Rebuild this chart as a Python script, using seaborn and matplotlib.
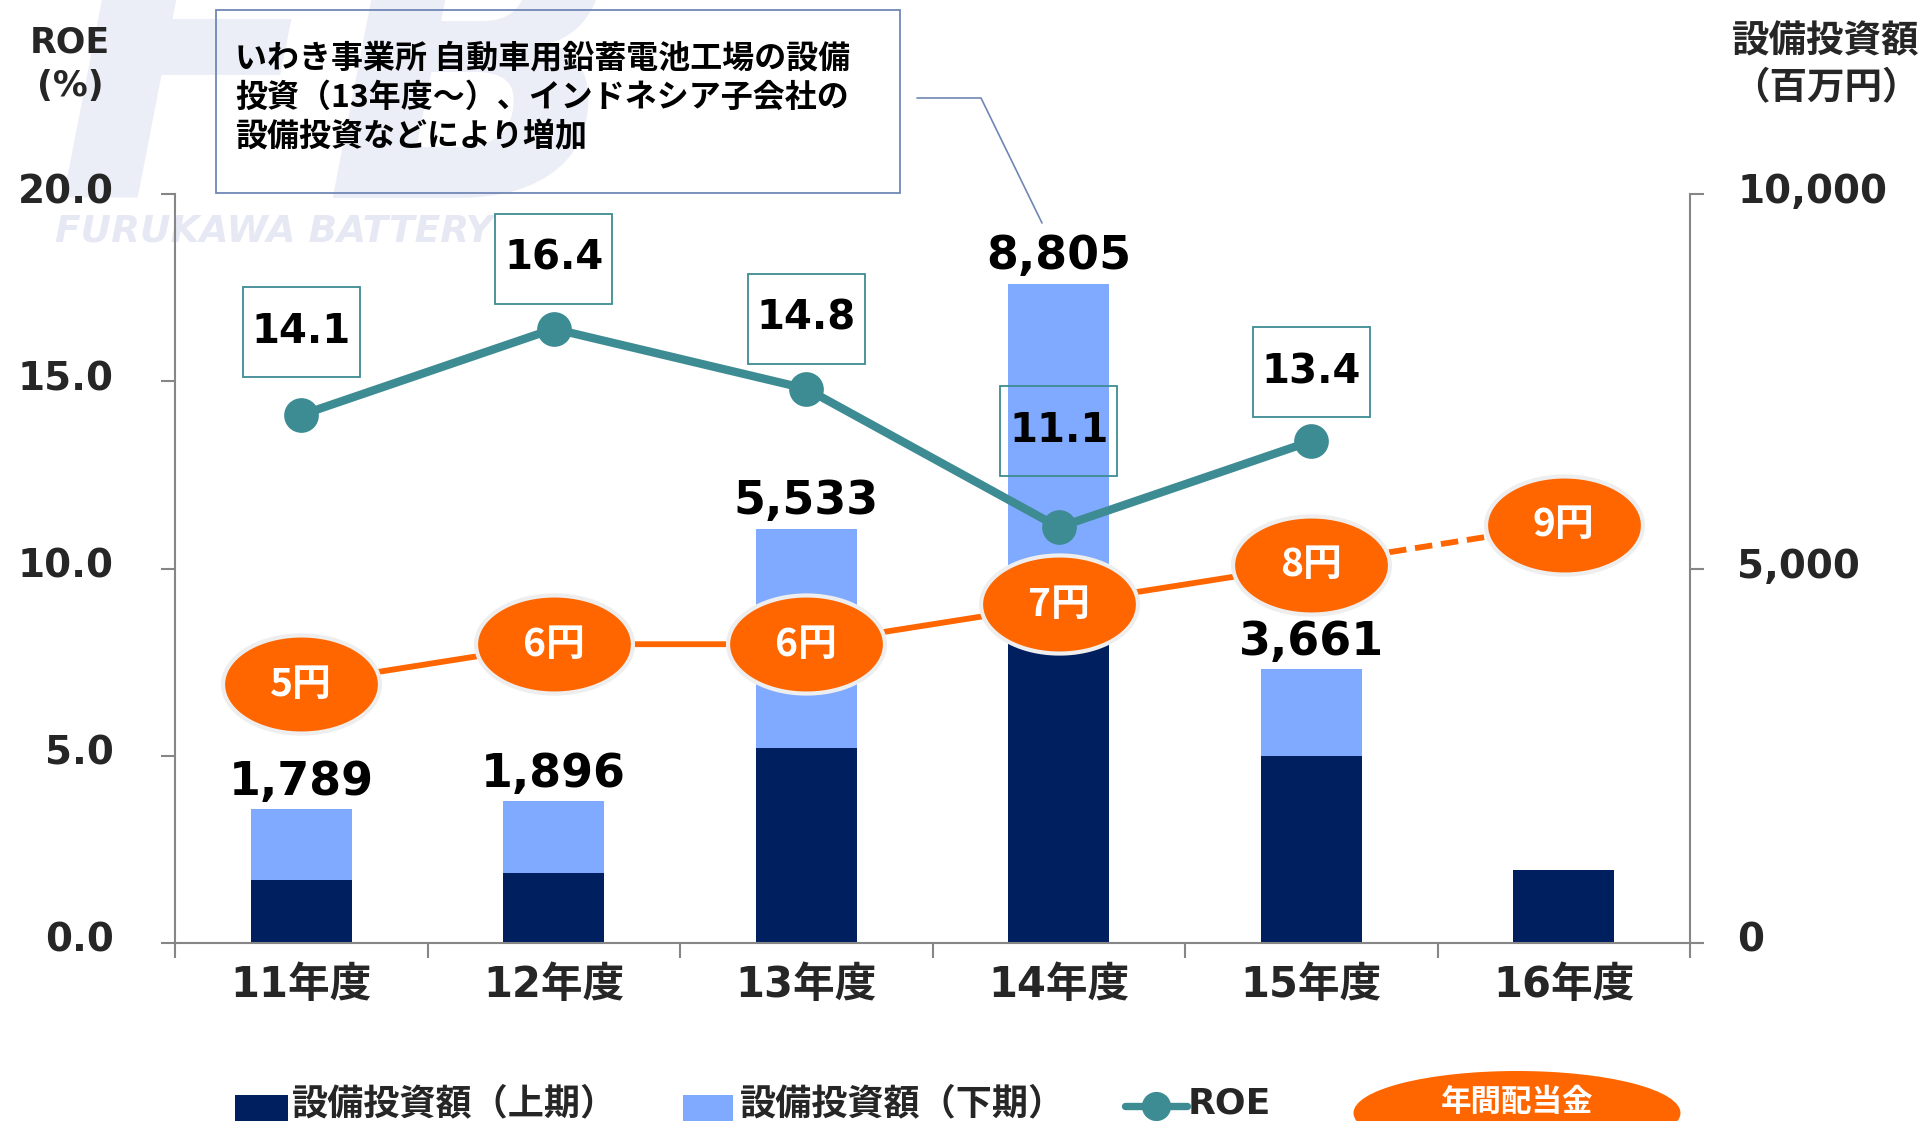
import numpy as np
import pandas as pd
import matplotlib
matplotlib.use("Agg")
import matplotlib.pyplot as plt
import matplotlib.transforms as mtransforms
from matplotlib.path import Path
from matplotlib.patches import Rectangle, Ellipse
from matplotlib.lines import Line2D
import seaborn as sns

# ---------------- data ----------------
categories = ["11年度", "12年度", "13年度", "14年度", "15年度", "16年度"]
capex_h1 = [835, 933, 2602, 4400, 2500, 980]          # 設備投資額（上期）
capex_total = [1789, 1896, 5533, 8805, 3661]           # 上期+下期 (labels)
roe = [14.1, 16.4, 14.8, 11.1, 13.4]
dividend = [5, 6, 6, 7, 8, 9]                          # 年間配当金（円）
roe_ticks = [0, 5, 10, 15, 20]
capex_ticks = [0, 5000, 10000]
note_lines = ["いわき事業所 自動車用鉛蓄電池工場の設備",
              "投資（13年度～）、インドネシア子会社の",
              "設備投資などにより増加"]
legend_labels = ["設備投資額（上期）", "設備投資額（下期）", "ROE", "年間配当金"]

# ---------------- style ----------------
NAVY = "#001F5F"
LIGHT = "#80AAFF"
TEAL = "#3E8C93"
ORANGE = "#FF6600"
GRAY = "#868686"
BOXBLUE = "#6F87B5"
roe_box_offsets = [0.83, 0.70, 0.70, 0.96, 0.69]   # inches above point

sns.set_theme(style="white")
plt.rcParams["font.family"] = ["DejaVu Sans", "Noto Sans CJK JP"]
plt.rcParams["font.weight"] = "bold"
CJK = ["Noto Sans CJK JP", "DejaVu Sans"]

W, H = 1923, 1121
fig = plt.figure(figsize=(W / 100, H / 100), dpi=100)
fig.patch.set_facecolor("white")


def fx(x):
    return x / W


def fy(y):
    return 1 - y / H


# watermark
fig.text(fx(55), fy(198), "FB", fontsize=285, style="italic", weight="bold",
         color="#ECEEF7", ha="left", va="baseline", zorder=0)
fig.text(fx(55), fy(231), "FURUKAWA BATTERY", fontsize=27, style="italic",
         weight="bold", color="#E6E9F4", ha="left", va="center", zorder=0)

ax = fig.add_axes([fx(175), fy(943), fx(1690) - fx(175), fy(194) - fy(943)])
ax3 = ax.twinx()
ax2 = ax.twinx()
ax.set_zorder(1)
ax3.set_zorder(2)
ax2.set_zorder(3)
ax.patch.set_visible(False)

# ---------------- bars ----------------
df_tot = pd.DataFrame({"cat": categories[:len(capex_total)], "v": capex_total})
df_h1 = pd.DataFrame({"cat": categories, "v": capex_h1})
sns.barplot(data=df_tot, x="cat", y="v", order=categories, color=LIGHT,
            saturation=1, width=0.4, linewidth=0, ax=ax)
sns.barplot(data=df_h1, x="cat", y="v", order=categories, color=NAVY,
            saturation=1, width=0.4, linewidth=0, ax=ax)
ax.set_ylim(0, capex_ticks[-1])
ax.set_xlim(-0.5, len(categories) - 0.5)
ax.set_xlabel("")
ax.set_ylabel("")
for i, v in enumerate(capex_total):
    ax.annotate(f"{v:,}", xy=(i, v), xytext=(0, 3), textcoords="offset points",
                ha="center", va="bottom", fontsize=33, weight="bold", color="black")

# ---------------- dividend ----------------
div_x = np.arange(len(dividend))
sns.lineplot(x=div_x[:5], y=dividend[:5], ax=ax3, color=ORANGE, lw=4.2)
sns.lineplot(x=div_x[4:], y=dividend[4:], ax=ax3, color=ORANGE, lw=4.2,
             linestyle=(0, (3, 1.5)))
theta = np.linspace(0, 2 * np.pi, 120)
ell_path = Path(np.column_stack([np.cos(theta), 0.625 * np.sin(theta)]), closed=True)
ax3.plot(div_x, dividend, ls="none", marker=ell_path, markersize=113,
         markerfacecolor=ORANGE, markeredgecolor="#EEEEEE", markeredgewidth=3)
for i, d in enumerate(dividend):
    ax3.text(i, d, f"{d}円", ha="center", va="center", color="white",
             fontsize=28, family=CJK, weight="bold")
ax3.set_ylim(-1.5, 17.3)
ax3.set_axis_off()

# ---------------- ROE ----------------
roe_x = np.arange(len(roe))
sns.lineplot(x=roe_x, y=roe, ax=ax2, color=TEAL, lw=6, marker="o",
             markersize=25, markeredgewidth=0, markerfacecolor=TEAL)
ax2.set_ylim(roe_ticks[0], roe_ticks[-1])
for i, (v, off) in enumerate(zip(roe, roe_box_offsets)):
    trans = fig.dpi_scale_trans + mtransforms.ScaledTranslation(i, v, ax2.transData)
    ax2.add_patch(Rectangle((-0.585, off - 0.45), 1.17, 0.90, transform=trans,
                            fill=False, ec=TEAL, lw=1.3, clip_on=False))
    ax2.text(0, off, f"{v:.1f}", transform=trans, ha="center", va="center",
             fontsize=29, weight="bold", color="black", clip_on=False)

# ---------------- axes styling ----------------
for a in (ax, ax2, ax3):
    for s in a.spines.values():
        s.set_visible(False)
for a, s in ((ax, "right"), (ax, "bottom"), (ax2, "left")):
    a.spines[s].set_visible(True)
    a.spines[s].set_color(GRAY)
    a.spines[s].set_linewidth(1.5)

ax2.yaxis.tick_left()
ax2.set_yticks(roe_ticks)
ax2.set_yticklabels([f"{t:.1f}" for t in roe_ticks])
ax2.tick_params(axis="y", direction="out", length=10, width=1.5, color=GRAY,
                labelsize=28, pad=34)

ax.yaxis.tick_right()
ax.set_yticks(capex_ticks)
ax.set_yticklabels([f"{t:,}" for t in capex_ticks])
ax.tick_params(axis="y", direction="out", length=10, width=1.5, color=GRAY,
               labelsize=28, pad=24, left=False, right=True,
               labelleft=False, labelright=True)

up = mtransforms.ScaledTranslation(0, 0.06, fig.dpi_scale_trans)
for lbl in list(ax2.get_yticklabels()) + list(ax.get_yticklabels()):
    lbl.set_transform(lbl.get_transform() + up)

ax.set_xticks(np.arange(-0.5, len(categories), 1.0))
ax.set_xticklabels([])
ax.set_xticks(np.arange(len(categories)), minor=True)
ax.set_xticklabels(categories, minor=True)
ax.tick_params(axis="x", which="major", direction="out", length=11, width=1.5,
               color=GRAY, bottom=True)
ax.tick_params(axis="x", which="minor", length=0, labelsize=30, pad=15, bottom=True)
for lbl in ax.get_xticklabels(minor=True):
    lbl.set_fontweight("bold")

# ---------------- axis titles ----------------
fig.text(fx(70), fy(64), "ROE\n(%)", ha="center", va="center", fontsize=25,
         weight="bold", linespacing=1.35)
fig.text(fx(1826), fy(64), "設備投資額\n（百万円）", ha="center", va="center",
         fontsize=27, family=CJK, weight="bold", linespacing=1.25)

# ---------------- note box ----------------
fig.add_artist(Rectangle((fx(216), fy(193)), fx(900) - fx(216), fy(10) - fy(193),
                         transform=fig.transFigure, fill=False, ec=BOXBLUE, lw=1.3))
for k, (line, yy) in enumerate(zip(note_lines, [58, 98, 137])):
    fig.text(fx(235), fy(yy), line, ha="left", va="center", fontsize=23,
             family=CJK, weight="bold", color="black")
fig.add_artist(Line2D([fx(917), fx(981), fx(1042)], [fy(98), fy(98), fy(223)],
                      transform=fig.transFigure, color=BOXBLUE, lw=1.2))

# ---------------- legend ----------------
LY = 1104
fig.add_artist(Rectangle((fx(235), fy(1125)), fx(288) - fx(235), fy(1095) - fy(1125),
                         transform=fig.transFigure, fc=NAVY, ec="none"))
fig.text(fx(292), fy(LY), legend_labels[0], ha="left", va="center", fontsize=26,
         family=CJK, weight="bold")
fig.add_artist(Rectangle((fx(683), fy(1125)), fx(733) - fx(683), fy(1095) - fy(1125),
                         transform=fig.transFigure, fc=LIGHT, ec="none"))
fig.text(fx(740), fy(LY), legend_labels[1], ha="left", va="center", fontsize=26,
         family=CJK, weight="bold")
fig.add_artist(Line2D([fx(1125), fx(1187)], [fy(1106), fy(1106)],
                      transform=fig.transFigure, color=TEAL, lw=5.3))
fig.add_artist(Line2D([fx(1156)], [fy(1106)], transform=fig.transFigure,
                      color=TEAL, marker="o", markersize=20, ls="none"))
fig.text(fx(1188), fy(LY), legend_labels[2], ha="left", va="center", fontsize=26,
         weight="bold")
fig.add_artist(Ellipse((fx(1517), fy(1113)), fx(327), 84 / H,
                       transform=fig.transFigure, fc=ORANGE, ec="none"))
fig.text(fx(1517), fy(1102), legend_labels[3], ha="center", va="center",
         fontsize=22, family=CJK, weight="bold", color="white")

fig.savefig("out.png", dpi=100, facecolor="white")
